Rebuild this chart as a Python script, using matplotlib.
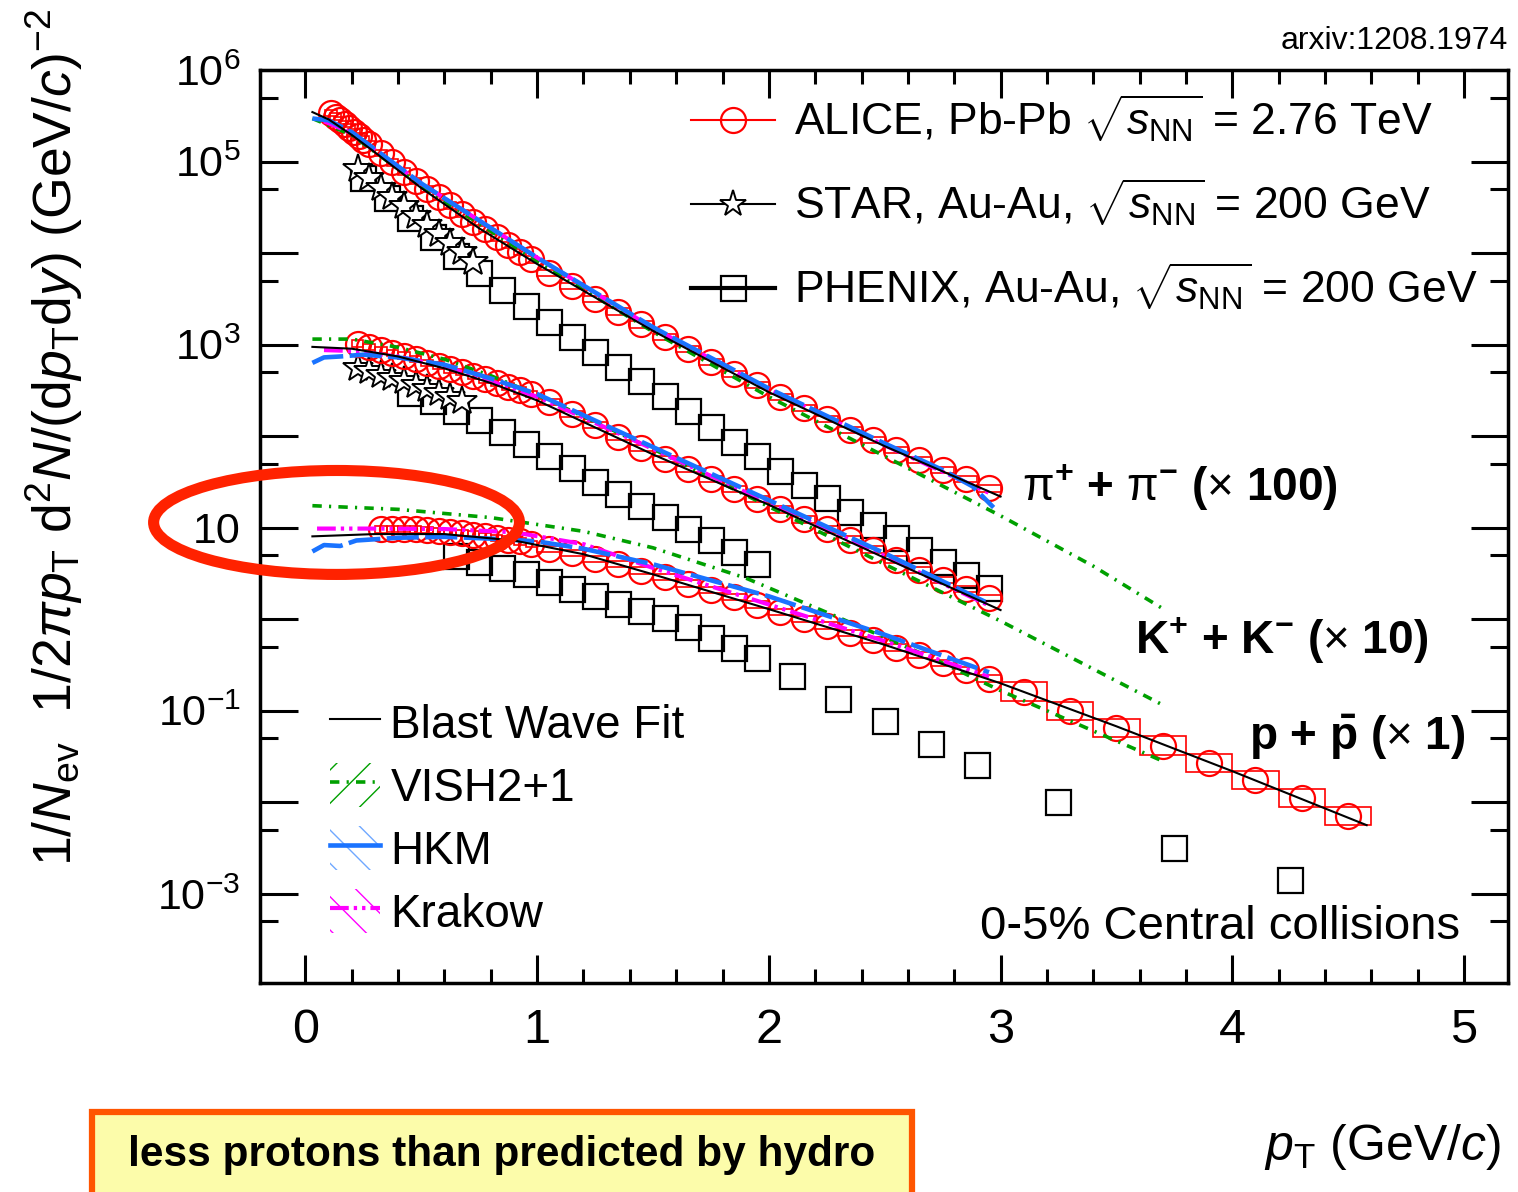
import matplotlib
matplotlib.use('Agg')
import matplotlib.pyplot as plt
import numpy as np
from matplotlib import font_manager
from matplotlib.patches import Ellipse, Rectangle, Patch
from matplotlib.lines import Line2D
from matplotlib.ticker import FixedLocator, FuncFormatter, MultipleLocator

plt.rcParams['font.family'] = ['Liberation Sans', 'DejaVu Sans']
plt.rcParams['mathtext.fontset'] = 'custom'
plt.rcParams['mathtext.rm'] = 'Liberation Sans'
plt.rcParams['mathtext.it'] = 'Liberation Sans:italic'
plt.rcParams['mathtext.bf'] = 'Liberation Sans:bold'
plt.rcParams['hatch.linewidth'] = 1.0

# ---- ALICE Pb-Pb 2.76 TeV, 0-5% (values are log10 of the yield as drawn) ----
pt_pi_alice = [0.11, 0.13, 0.15, 0.17, 0.19, 0.21, 0.23, 0.25, 0.275,
               0.325, 0.375, 0.425, 0.475, 0.525, 0.575, 0.625, 0.675, 0.725,
               0.775, 0.825, 0.875, 0.925, 0.975,
               1.05, 1.15, 1.25, 1.35, 1.45, 1.55, 1.65, 1.75, 1.85, 1.95,
               2.05, 2.15, 2.25, 2.35, 2.45, 2.55, 2.65, 2.75, 2.85, 2.95]
lg_pi_alice = [5.53, 5.49, 5.45, 5.41, 5.37, 5.32, 5.28, 5.24, 5.19,
               5.09, 4.99, 4.89, 4.79, 4.70, 4.61, 4.52, 4.43, 4.34,
               4.26, 4.17, 4.09, 4.01, 3.93,
               3.78, 3.64, 3.50, 3.36, 3.22, 3.08, 2.95, 2.81, 2.68, 2.56,
               2.43, 2.31, 2.19, 2.07, 1.96, 1.85, 1.74, 1.63, 1.53, 1.43]

pt_k_alice = [0.225, 0.275, 0.325, 0.375, 0.425, 0.475, 0.525, 0.575, 0.625,
              0.675, 0.725, 0.775, 0.825, 0.875, 0.925, 0.975,
              1.05, 1.15, 1.25, 1.35, 1.45, 1.55, 1.65, 1.75, 1.85, 1.95,
              2.05, 2.15, 2.25, 2.35, 2.45, 2.55, 2.65, 2.75, 2.85, 2.95]
lg_k_alice = [3.01, 2.975, 2.94, 2.91, 2.88, 2.84, 2.80, 2.77, 2.73,
              2.70, 2.66, 2.62, 2.58, 2.54, 2.50, 2.46,
              2.37, 2.24, 2.12, 1.99, 1.87, 1.75, 1.64, 1.53, 1.42, 1.31,
              1.20, 1.09, 0.98, 0.87, 0.76, 0.65, 0.54, 0.43, 0.33, 0.23]

pt_p_alice = [0.325, 0.375, 0.425, 0.475, 0.525, 0.575, 0.625, 0.675, 0.725,
              0.775, 0.825, 0.875, 0.925, 0.975,
              1.05, 1.15, 1.25, 1.35, 1.45, 1.55, 1.65, 1.75, 1.85, 1.95,
              2.05, 2.15, 2.25, 2.35, 2.45, 2.55, 2.65, 2.75, 2.85, 2.95,
              3.1, 3.3, 3.5, 3.7, 3.9, 4.1, 4.3, 4.5]
lg_p_alice = [0.98, 0.985, 0.985, 0.98, 0.975, 0.965, 0.955, 0.94, 0.925,
              0.91, 0.89, 0.87, 0.85, 0.82,
              0.77, 0.72, 0.66, 0.60, 0.53, 0.46, 0.39, 0.32, 0.24, 0.16,
              0.08, 0.00, -0.07, -0.15, -0.23, -0.31, -0.39, -0.48, -0.56, -0.65,
              -0.79, -1.00, -1.19, -1.38, -1.57, -1.76, -1.95, -2.15]

# systematic half-height of the red boxes, in decades
syst_lo_pt = 0.035
syst_hi_pt = 0.10

# ---- STAR Au-Au 200 GeV ----
pt_pi_star = [0.225, 0.275, 0.325, 0.375, 0.425, 0.475, 0.525, 0.575, 0.625, 0.675, 0.725]
lg_pi_star = [4.92, 4.82, 4.71, 4.61, 4.51, 4.41, 4.31, 4.21, 4.11, 4.01, 3.90]
pt_k_star = [0.225, 0.275, 0.325, 0.375, 0.425, 0.475, 0.525, 0.575, 0.625, 0.675]
lg_k_star = [2.74, 2.71, 2.67, 2.64, 2.60, 2.56, 2.52, 2.47, 2.43, 2.38]

# ---- PHENIX Au-Au 200 GeV ----
pt_pi_phenix = [0.25, 0.35, 0.45, 0.55, 0.65, 0.75, 0.85, 0.95, 1.05, 1.15,
                1.25, 1.35, 1.45, 1.55, 1.65, 1.75, 1.85, 1.95, 2.05, 2.15,
                2.25, 2.35, 2.45, 2.55, 2.65, 2.75, 2.85, 2.95]
lg_pi_phenix = [4.82, 4.60, 4.385, 4.17, 3.97, 3.78, 3.60, 3.42, 3.25, 3.08,
                2.92, 2.76, 2.60, 2.44, 2.27, 2.10, 1.94, 1.78, 1.62, 1.47,
                1.32, 1.17, 1.03, 0.89, 0.76, 0.62, 0.48, 0.34]
pt_k_phenix = [0.45, 0.55, 0.65, 0.75, 0.85, 0.95, 1.05, 1.15, 1.25, 1.35,
               1.45, 1.55, 1.65, 1.75, 1.85, 1.95]
lg_k_phenix = [2.47, 2.38, 2.27, 2.18, 2.04, 1.91, 1.78, 1.65, 1.50, 1.37,
               1.24, 1.12, 0.99, 0.86, 0.73, 0.60]
pt_p_phenix = [0.65, 0.75, 0.85, 0.95, 1.05, 1.15, 1.25, 1.35, 1.45, 1.55,
               1.65, 1.75, 1.85, 1.95, 2.1, 2.3, 2.5, 2.7, 2.9, 3.25, 3.75, 4.25]
lg_p_phenix = [0.69, 0.63, 0.56, 0.49, 0.41, 0.33, 0.25, 0.17, 0.09, 0.01,
               -0.09, -0.20, -0.31, -0.42, -0.62, -0.87, -1.11, -1.36, -1.59,
               -2.00, -2.50, -2.85]

# ---- Blast wave fits ----
pt_bw_pi = [0.03, 0.1, 0.2, 0.3, 0.5, 0.75, 1.0, 1.5, 2.0, 2.5, 3.0]
lg_bw_pi = [5.54, 5.46, 5.29, 5.10, 4.71, 4.27, 3.88, 3.15, 2.48, 1.89, 1.34]
pt_bw_k = [0.03, 0.2, 0.4, 0.6, 0.8, 1.0, 1.5, 2.0, 2.5, 3.0]
lg_bw_k = [2.975, 2.955, 2.87, 2.74, 2.58, 2.39, 1.80, 1.25, 0.67, 0.10]
pt_bw_p = [0.03, 0.3, 0.6, 0.9, 1.2, 1.5, 2.0, 2.5, 3.0, 3.5, 4.0, 4.58]
lg_bw_p = [0.905, 0.93, 0.93, 0.86, 0.71, 0.49, 0.11, -0.28, -0.70, -1.17, -1.66, -2.25]

# ---- VISH2+1 ----
pt_vish_pi = [0.03, 0.2, 0.5, 1.0, 1.5, 2.0, 2.5, 3.0, 3.4, 3.71]
lg_vish_pi = [5.47, 5.29, 4.73, 3.91, 3.14, 2.43, 1.78, 1.13, 0.58, 0.10]
pt_vish_k = [0.03, 0.2, 0.4, 0.6, 0.8, 1.0, 1.5, 2.0, 2.5, 3.0, 3.71]
lg_vish_k = [3.06, 3.06, 2.97, 2.84, 2.66, 2.45, 1.86, 1.23, 0.60, -0.02, -0.95]
pt_vish_p = [0.03, 0.4, 0.8, 1.2, 1.5, 1.9, 2.3, 2.7, 3.0, 3.4, 3.7]
lg_vish_p = [1.24, 1.20, 1.11, 0.96, 0.78, 0.45, 0.02, -0.42, -0.78, -1.22, -1.55]

# ---- HKM ----
pt_hkm_pi = [0.03, 0.1, 0.2, 0.5, 1.0, 1.5, 2.0, 2.5, 2.75, 2.88, 2.97]
lg_hkm_pi = [5.47, 5.45, 5.32, 4.76, 3.95, 3.19, 2.52, 1.92, 1.63, 1.45, 1.22]
pt_hkm_k = [0.03, 0.08, 0.15, 0.25, 0.4, 0.6, 0.8, 1.0, 1.5, 2.0, 2.5, 2.95]
lg_hkm_k = [2.80, 2.86, 2.87, 2.89, 2.86, 2.78, 2.63, 2.46, 1.88, 1.30, 0.72, 0.17]
pt_hkm_p = [0.03, 0.08, 0.15, 0.22, 0.4, 0.6, 0.8, 1.0, 1.2, 1.5, 2.0, 2.5, 2.95]
lg_hkm_p = [0.74, 0.81, 0.80, 0.86, 0.89, 0.90, 0.88, 0.85, 0.77, 0.60, 0.25, -0.17, -0.58]

# ---- Krakow ----
pt_krk_pi = [0.08, 0.2, 0.5, 1.0, 1.5, 2.0, 2.5, 2.95]
lg_krk_pi = [5.44, 5.31, 4.76, 3.95, 3.18, 2.51, 1.90, 1.38]
pt_krk_k = [0.08, 0.2, 0.4, 0.6, 0.8, 1.0, 1.5, 2.0, 2.5, 2.95]
lg_krk_k = [2.94, 2.93, 2.87, 2.76, 2.60, 2.43, 1.86, 1.27, 0.69, 0.15]
pt_krk_p = [0.05, 0.3, 0.6, 0.9, 1.2, 1.5, 2.0, 2.5, 2.95]
lg_krk_p = [0.99, 0.99, 0.985, 0.95, 0.82, 0.56, 0.16, -0.24, -0.63]

y_label_decades = [6, 5, 3, 1, -1, -3]

RED = '#ff0000'
GREEN = '#00a000'
BLUE = '#1a73ff'
MAGENTA = '#ff00ff'


def yv(lg):
    return 10 ** np.asarray(lg, dtype=float)


def bin_width(pt):
    pt = np.asarray(pt)
    return np.where(pt < 1.0, 0.05, np.where(pt < 3.0, 0.1, 0.2))


def syst_boxes(ax, pt, lg):
    pt = np.asarray(pt)
    half = np.where(pt < 3.0, syst_lo_pt, syst_hi_pt)
    y = yv(lg)
    lo = y * 10 ** (-half)
    hi = y * 10 ** half
    ax.bar(pt, hi - lo, width=bin_width(pt), bottom=lo, fill=False,
           edgecolor=RED, linewidth=1.2, zorder=2)


fig = plt.figure(figsize=(15.18, 11.92), dpi=100)
ax = fig.add_axes([0.1713, 0.1753, 0.8221, 0.766])
ax.set_yscale('log')

# data
for pt, lg in [(pt_pi_alice, lg_pi_alice), (pt_k_alice, lg_k_alice), (pt_p_alice, lg_p_alice)]:
    syst_boxes(ax, pt, lg)
    ax.plot(pt, yv(lg), ls='none', marker='o', ms=18, mfc='none', mec=RED, mew=1.6, zorder=4)

for pt, lg in [(pt_pi_phenix, lg_pi_phenix), (pt_k_phenix, lg_k_phenix), (pt_p_phenix, lg_p_phenix)]:
    ax.plot(pt, yv(lg), ls='none', marker='s', ms=18, mfc='none', mec='black', mew=1.6, zorder=3)

for pt, lg in [(pt_pi_star, lg_pi_star), (pt_k_star, lg_k_star)]:
    ax.plot(pt, yv(lg), ls='none', marker='*', ms=22, mfc='white', mec='black', mew=1.4, zorder=3)

# models
vish_style = dict(color=GREEN, lw=2.6, dashes=(2.6, 2.0, 0.6, 2.0))
hkm_style = dict(color=BLUE, lw=3.3, dashes=(7, 1.4))
krk_style = dict(color=MAGENTA, lw=3.0, dashes=(4.5, 1.2, 0.8, 1.2, 0.8, 1.2))
bw_style = dict(color='black', lw=1.5)

for pt, lg in [(pt_vish_pi, lg_vish_pi), (pt_vish_k, lg_vish_k), (pt_vish_p, lg_vish_p)]:
    ax.plot(pt, yv(lg), zorder=5, **vish_style)
for pt, lg in [(pt_krk_pi, lg_krk_pi), (pt_krk_k, lg_krk_k), (pt_krk_p, lg_krk_p)]:
    ax.plot(pt, yv(lg), zorder=5, **krk_style)
for pt, lg in [(pt_hkm_pi, lg_hkm_pi), (pt_hkm_k, lg_hkm_k), (pt_hkm_p, lg_hkm_p)]:
    ax.plot(pt, yv(lg), zorder=5, **hkm_style)
for pt, lg in [(pt_bw_pi, lg_bw_pi), (pt_bw_k, lg_bw_k), (pt_bw_p, lg_bw_p)]:
    ax.plot(pt, yv(lg), zorder=6, **bw_style)

# axes
ax.set_xlim(-0.196, 5.19)
ax.set_ylim(1.06e-4, 1e6)
ax.xaxis.set_major_locator(MultipleLocator(1))
ax.xaxis.set_minor_locator(MultipleLocator(0.2))
ax.yaxis.set_major_locator(FixedLocator(10.0 ** np.arange(-4, 7)))
ax.yaxis.set_minor_locator(FixedLocator(5 * 10.0 ** np.arange(-4, 6)))


def ylab(v, pos):
    d = int(round(np.log10(v)))
    if d not in y_label_decades:
        return ''
    if d == 1:
        return '10'
    return r'$10^{%d}$' % d


ax.yaxis.set_major_formatter(FuncFormatter(ylab))
ax.yaxis.set_minor_formatter(FuncFormatter(lambda v, p: ''))
ax.tick_params(which='both', direction='in', top=True, right=True, width=2.2, colors='black')
ax.tick_params(axis='x', which='major', length=20, pad=18, labelsize=35)
ax.tick_params(axis='x', which='minor', length=10)
ax.tick_params(axis='y', which='major', length=27, pad=14, labelsize=31)
ax.tick_params(axis='y', which='minor', length=13)
for s in ax.spines.values():
    s.set_linewidth(2.5)

ax.set_ylabel(r'$1/N_{\rm ev}\ \ 1/2\pi p_{\rm T}\ {\rm d}^{2}N/({\rm d}p_{\rm T}{\rm d}y)\ ({\rm GeV}/c)^{-2}$',
              fontsize=38.5)
ax.yaxis.set_label_coords(-0.140, 0.598)
ax.set_xlabel(r'$p_{\rm T}$ (GeV/$c$)', fontsize=36, loc='right')
ax.xaxis.set_label_coords(0.994, -0.152)

# legends
h_alice = Line2D([], [], color=RED, lw=1.5, marker='o', ms=18, mfc='none', mew=1.6)
h_star = Line2D([], [], color='black', lw=1.5, marker='*', ms=20, mfc='white', mew=1.4)
h_phenix = Line2D([], [], color='black', lw=3.0, marker='s', ms=18, mfc='none', mew=1.6)
leg1 = ax.legend([h_alice, h_star, h_phenix],
                 [r'ALICE, Pb-Pb $\sqrt{s_{\rm NN}}$ = 2.76 TeV',
                  r'STAR, Au-Au, $\sqrt{s_{\rm NN}}$ = 200 GeV',
                  r'PHENIX, Au-Au, $\sqrt{s_{\rm NN}}$ = 200 GeV'],
                 loc='upper left', bbox_to_anchor=(0.345, 0.975), frameon=False,
                 fontsize=32, borderpad=0, borderaxespad=0, handlelength=1.9,
                 handletextpad=0.43, labelspacing=0.71)
ax.add_artist(leg1)

h_bw = Line2D([], [], **bw_style)
h_vish = (Patch(facecolor='none', edgecolor=GREEN, hatch='/', lw=0), Line2D([], [], **vish_style))
h_hkm = (Patch(facecolor='none', edgecolor='#6fa8ff', hatch='\\', lw=0), Line2D([], [], color=BLUE, lw=3.3))
h_krk = (Patch(facecolor='none', edgecolor=MAGENTA, hatch='\\', lw=0), Line2D([], [], **krk_style))
ax.legend([h_bw, h_vish, h_hkm, h_krk], ['Blast Wave Fit', 'VISH2+1', 'HKM', 'Krakow'],
          loc='upper left', bbox_to_anchor=(0.056, 0.31), frameon=False,
          fontsize=33, borderpad=0, borderaxespad=0, handlelength=1.1, handleheight=1.1,
          handletextpad=0.22, labelspacing=0.34)

# annotations
ax.text(0.6106, 0.5433, r'$\mathrm{\pi}^{\mathbf{+}}$ + $\mathrm{\pi}^{\mathbf{-}}$ ($\times$ 100)',
        transform=ax.transAxes, fontsize=33, fontweight='bold', va='center', ha='left')
ax.text(0.701, 0.3757, r'K$^{\mathbf{+}}$ + K$^{\mathbf{-}}$ ($\times$ 10)', transform=ax.transAxes,
        fontsize=33, fontweight='bold', va='center', ha='left')
ax.text(0.9655, 0.2694, r'p + $\mathbf{\bar{p}}$ ($\times$ 1)', transform=ax.transAxes,
        fontsize=33, fontweight='bold', va='center', ha='right')
ax.text(0.9615, 0.0613, '0-5% Central collisions', transform=ax.transAxes,
        fontsize=34, va='center', ha='right')

fig.text(0.9934, 0.966, 'arxiv:1208.1974', fontsize=23, ha='right', va='center')

fig.add_artist(Ellipse((0.2217, 0.5617), 0.241, 0.0872, transform=fig.transFigure,
                       fill=False, edgecolor='#ff2200', lw=8, zorder=10))

fig.add_artist(Rectangle((0.0606, -0.02), 0.540, 0.0867, transform=fig.transFigure,
                         facecolor='#fcfcaa', edgecolor='#ff5500', lw=4.5, zorder=10))
try:
    font_manager.findfont('Liberation Sans Narrow', fallback_to_default=False)
    box_family, box_size = ['Liberation Sans Narrow', 'Liberation Sans'], 33
except Exception:
    box_family, box_size = ['Liberation Sans', 'DejaVu Sans'], 30.5
fig.text(0.3307, 0.031, 'less protons than predicted by hydro', ha='center', va='center',
         fontsize=box_size, fontweight='bold', family=box_family, zorder=11)

fig.savefig('out.png', dpi=100)
